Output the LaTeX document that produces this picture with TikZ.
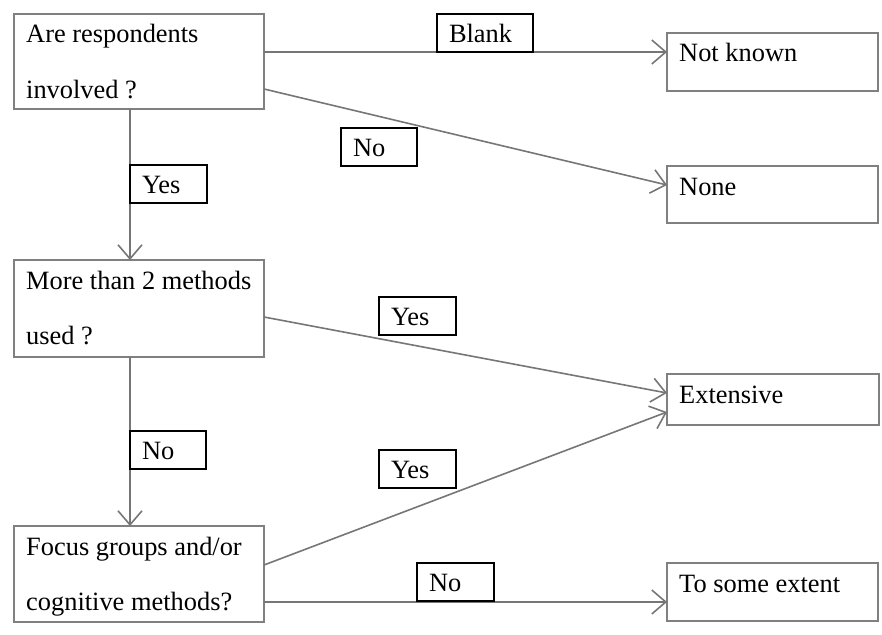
\documentclass[tikz,border=0pt]{standalone}
\usepackage{fontspec}
\setmainfont{Liberation Serif}
\usetikzlibrary{arrows.meta,calc}
\definecolor{framegray}{RGB}{128,128,128}
\definecolor{linegray}{RGB}{118,118,118}
% two lines of box text, baseline of the whole = baseline of the first line
\newcommand{\twoline}[2]{\vtop{\baselineskip=55pt\hbox{#1}\hbox{#2}}}
\begin{document}
\begin{tikzpicture}[x=1pt,y=-1pt,
  font=\fontsize{26.4pt}{30pt}\selectfont,
  box/.style={draw=framegray, line width=2pt, inner sep=0pt, outer sep=0pt, anchor=north west},
  txt/.style={inner sep=0pt, anchor=base west},
  tag/.style={draw=black, line width=1.1pt, anchor=north west, inner xsep=12pt, inner ysep=6pt,
              text height=22pt, text depth=4pt, align=left, outer sep=0pt},
  conn/.style={draw=linegray, line width=1.6pt, -{Straight Barb[length=14pt,width=24pt]}}]
\useasboundingbox (0,0) rectangle (882,634);

% decision boxes
\node[box, minimum width=250pt, minimum height=95pt] (A) at (14,14) {};
\node[txt] (Atext) at ([xshift=12pt,yshift=-29pt]A.north west) {\twoline{Are respondents}{involved ?}};
\node[box, minimum width=250pt, minimum height=97pt] (B) at (14,260) {};
\node[txt] (Btext) at ([xshift=12pt,yshift=-29pt]B.north west) {\twoline{More than 2 methods}{used ?}};
\node[box, minimum width=250pt, minimum height=96pt] (C) at (14,526) {};
\node[txt] (Ctext) at ([xshift=12pt,yshift=-29pt]C.north west) {\twoline{Focus groups and/or}{cognitive methods?}};

% outcome boxes
\node[box, minimum width=211pt, minimum height=58pt] (NK) at (667,33) {};
\node[txt] (NKtext) at ([xshift=12pt,yshift=-29pt]NK.north west) {Not known};
\node[box, minimum width=211pt, minimum height=57pt] (NO) at (667,166) {};
\node[txt] (NOtext) at ([xshift=12pt,yshift=-29pt]NO.north west) {None};
\node[box, minimum width=212pt, minimum height=51pt] (EX) at (667,374) {};
\node[txt] (EXtext) at ([xshift=12pt,yshift=-29pt]EX.north west) {Extensive};
\node[box, minimum width=211pt, minimum height=58pt] (TS) at (667,563) {};
\node[txt] (TStext) at ([xshift=12pt,yshift=-29pt]TS.north west) {To some extent};

% connectors
\draw[conn] ([yshift=-38pt]A.north east) -- ([yshift=-19pt]NK.north west);
\draw[conn] ([yshift=-75pt]A.north east) -- ([yshift=-19pt]NO.north west);
\draw[conn] ([xshift=116pt]A.south west) -- ([xshift=116pt]B.north west);
\draw[conn] ([yshift=-57pt]B.north east) -- ([yshift=-19pt]EX.north west);
\draw[conn] ([xshift=116pt]B.south west) -- ([xshift=116pt]C.north west);
\draw[conn] ([yshift=-39pt]C.north east) -- ([yshift=-38pt]EX.north west);
\draw[conn] ([yshift=-76pt]C.north east) -- ([yshift=-39pt]TS.north west);

% branch labels
\node[tag, text width=72pt] (lblank) at (437,14) {Blank};
\node[tag, text width=52pt] (lno1) at (341,128) {No};
\node[tag, text width=53pt] (lyes1) at (130,165) {Yes};
\node[tag, text width=53pt] (lyes2) at (379,297) {Yes};
\node[tag, text width=52pt] (lno2) at (130,431) {No};
\node[tag, text width=53pt] (lyes3) at (379,450) {Yes};
\node[tag, text width=53pt] (lno3) at (417,563) {No};
\end{tikzpicture}
\end{document}
